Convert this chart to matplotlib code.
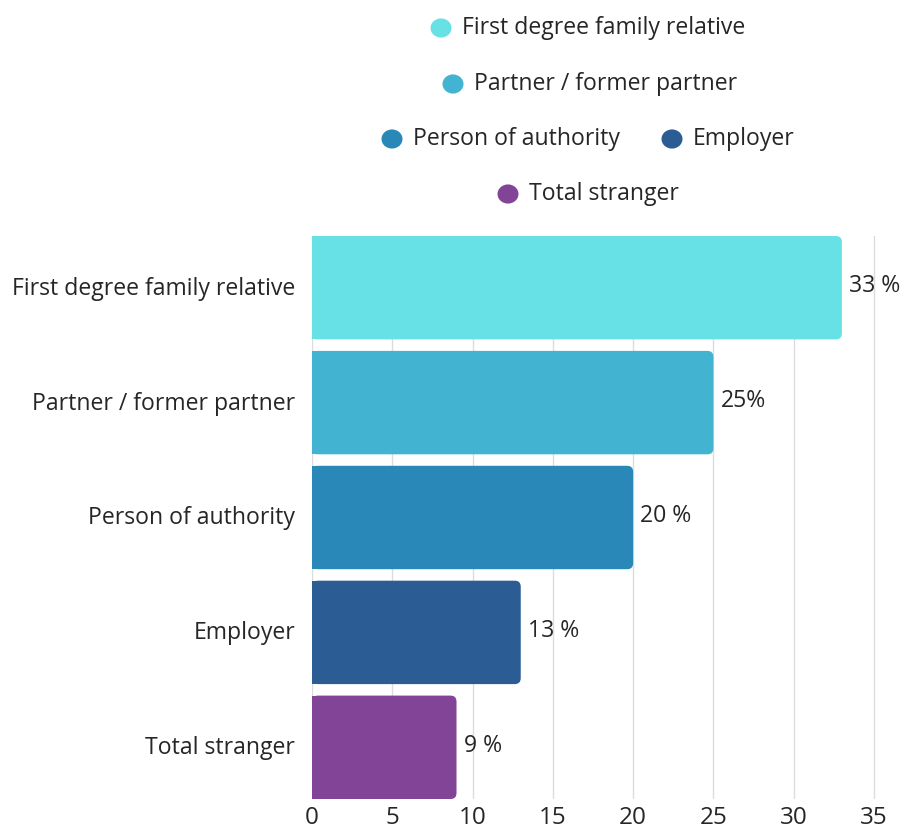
#!/usr/bin/env python3
"""
Horizontal bar chart: who the perpetrator was, by relationship
"""

import matplotlib
matplotlib.use("Agg")
import matplotlib.pyplot as plt
from matplotlib.patches import FancyBboxPatch, Rectangle

plt.rcParams['font.family'] = ['Open Sans', 'DejaVu Sans']

categories = ["First degree family relative", "Partner / former partner",
              "Person of authority", "Employer", "Total stranger"]
values = [33, 25, 20, 13, 9]
value_labels = ["33 %", "25%", "20 %", "13 %", "9 %"]
colors = ["#67E0E6", "#42B4D1", "#2A88B9", "#2B5C93", "#814497"]
x_ticks = [0, 5, 10, 15, 20, 25, 30, 35]

# legend rows (grouped as laid out above the chart)
legend_rows = [["First degree family relative"],
               ["Partner / former partner"],
               ["Person of authority", "Employer"],
               ["Total stranger"]]

FS = 16.6
TXT = "#262626"

W, H = 909, 828
X_MAX = 35.15
px_per_x = (874 - 312) / 35
ax_w = X_MAX * px_per_x
fig = plt.figure(figsize=(W / 100, H / 100), dpi=100)
ax = fig.add_axes([312 / W, 1 - 800 / H, ax_w / W, (800 - 237) / H])

bar_h = 0.9
ypos = list(range(len(categories)))
bars = ax.barh(ypos, values, height=bar_h, color=colors, zorder=2)
ax.set_xlim(0, X_MAX)
ax.set_ylim(len(categories) - 1 + bar_h / 2, -bar_h / 2)

# swap the square bars for ones with rounded right corners
px_per_y = (800 - 237) / (len(categories) - 1 + bar_h)
r = 6 / px_per_x
aspect = px_per_x / px_per_y
for bar, col in zip(bars, colors):
    x0, y0, w, h = bar.get_x(), bar.get_y(), bar.get_width(), bar.get_height()
    bar.set_visible(False)
    ax.add_patch(FancyBboxPatch((x0, y0), w, h,
                                boxstyle=f"round,pad=0,rounding_size={r}",
                                mutation_aspect=aspect, fc=col, ec="none", zorder=2))
    ax.add_patch(Rectangle((x0, y0), w / 2, h, fc=col, ec="none", zorder=2))

for y, v, lab in zip(ypos, values, value_labels):
    ax.text(v + 7 / px_per_x, y - 0.02, lab, va="center", ha="left",
            fontsize=FS, color=TXT, clip_on=False)

ax.set_yticks(ypos)
ax.set_yticklabels(categories, fontsize=FS, color=TXT, va="center")
for t in ax.get_yticklabels():
    t.set_y(t.get_position()[1])
ax.set_xticks(x_ticks)
ax.set_xticklabels([str(t) for t in x_ticks], fontsize=17.5, color=TXT)
ax.tick_params(axis="both", length=0)
ax.tick_params(axis="y", pad=12)
ax.tick_params(axis="x", pad=4)
ax.grid(axis="x", color="#dcdcdc", linewidth=1, zorder=0)
ax.set_axisbelow(True)
for s in ax.spines.values():
    s.set_visible(False)

# legend drawn by hand: dot + label, rows centred above the plot
color_of = dict(zip(categories, colors))
row_y = [29, 85, 140, 195]
dot_x = [[441], [453], [392, 672], [508]]
for row, yy, xs in zip(legend_rows, row_y, dot_x):
    for name, xx in zip(row, xs):
        fig.patches.append(plt.Circle((xx / W, 1 - yy / H), 10.5 / W,
                                      transform=fig.transFigure,
                                      fc=color_of[name], ec="none"))
        fig.text((xx + 21) / W, 1 - (yy - 1) / H, name, va="center", ha="left",
                 fontsize=FS, color=TXT)

fig.savefig("out.png", dpi=100)
